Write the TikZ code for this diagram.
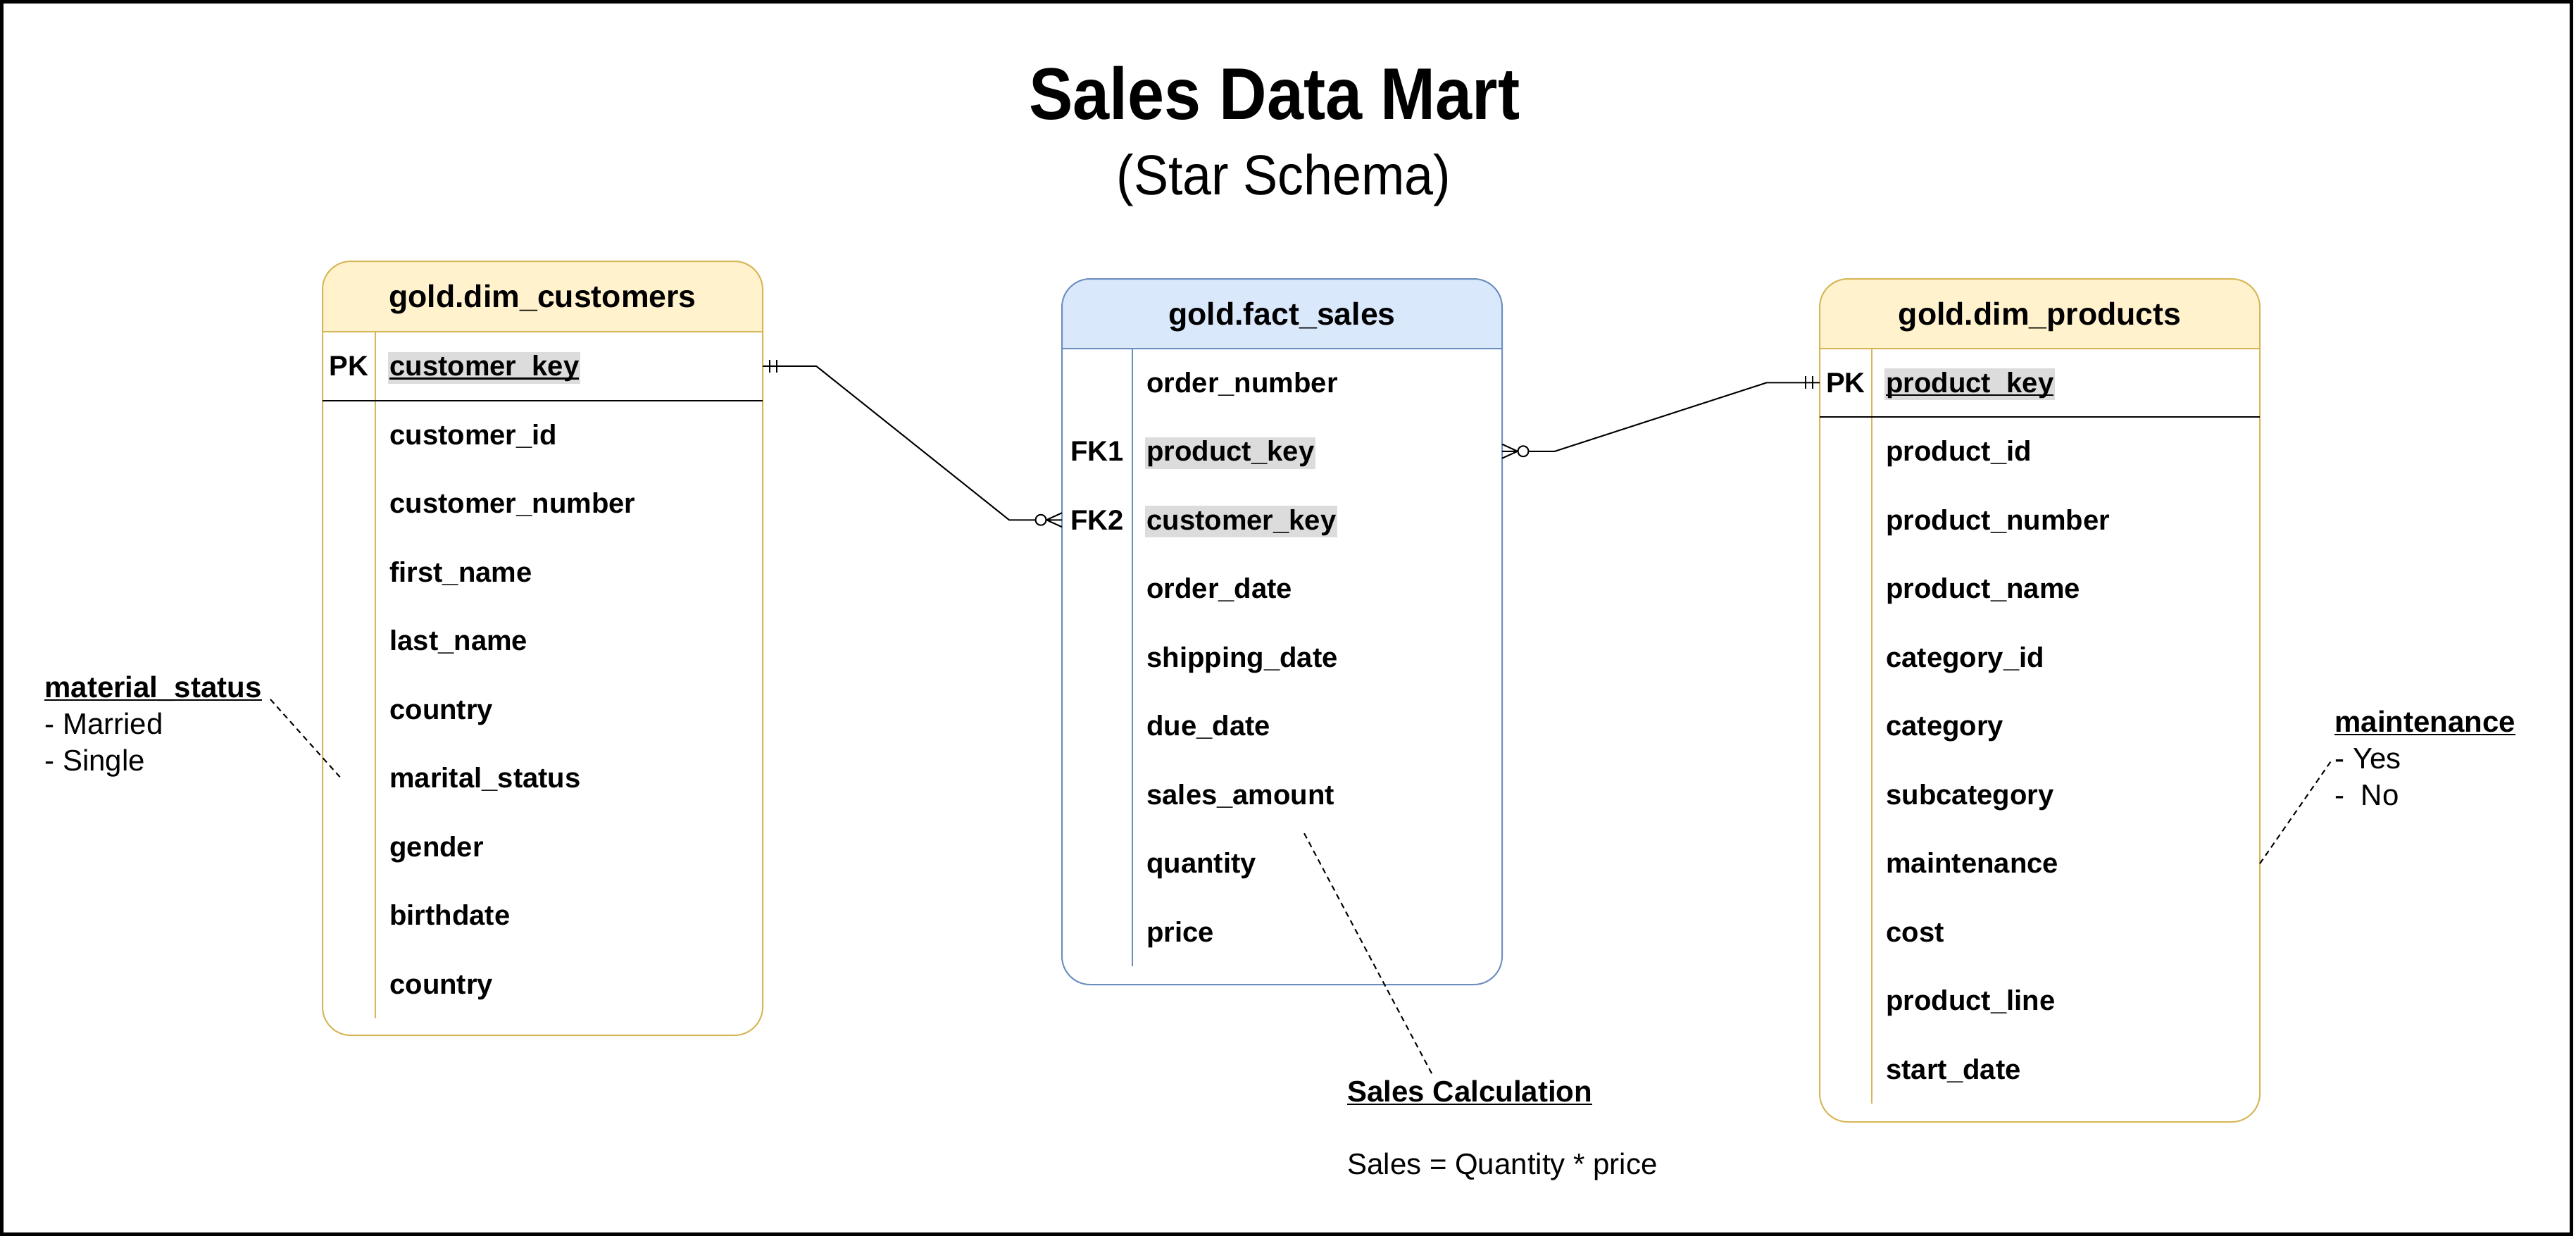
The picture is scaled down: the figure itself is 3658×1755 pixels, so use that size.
\documentclass[tikz,border=0pt]{standalone}
\usepackage{fontspec}
\setmainfont{Liberation Sans}
\usetikzlibrary{calc}
\definecolor{yfill}{HTML}{FFF2CC}
\definecolor{ystroke}{HTML}{D6B656}
\definecolor{bfill}{HTML}{DAE8FC}
\definecolor{bstroke}{HTML}{6C8EBF}
\definecolor{hlgray}{HTML}{DCDCDC}
\newcommand\myul[1]{\setbox0\hbox{#1}\rlap{\rule[-0.13em]{\wd0}{0.065em}}\box0}
\begin{document}
\begin{tikzpicture}[x=0.5pt,y=-0.5pt,
  tbox/.style={rounded corners=20pt, minimum width=312.5pt, inner sep=0pt, outer sep=0pt, line width=1pt},
  keycell/.style={minimum width=312.5pt, minimum height=48.75pt, inner sep=0pt, outer sep=0pt},
  hdrtxt/.style={anchor=base, inner sep=0pt, font=\fontsize{22.3pt}{26pt}\selectfont\bfseries},
  rowtxt/.style={anchor=base west, inner sep=0pt, font=\fontsize{20pt}{24pt}\selectfont\bfseries},
  keytxt/.style={anchor=base, inner sep=0pt, font=\fontsize{20pt}{24pt}\selectfont\bfseries},
  hltxt/.style={rowtxt, fill=hlgray, inner xsep=1pt, inner ysep=0pt, text height=17pt, text depth=5.5pt},
  notetitle/.style={anchor=base west, inner sep=0pt, font=\fontsize{21pt}{25pt}\selectfont\bfseries},
  notetext/.style={anchor=base west, inner sep=0pt, font=\fontsize{21pt}{25pt}\selectfont},
  conn/.style={line width=1pt, black},
  dashline/.style={line width=1pt, dash pattern=on 4pt off 3pt, black}
]
\useasboundingbox (0,0) rectangle (3658,1755);
\fill[white] (0,0) rectangle (3658,1755);
\draw[line width=2.5pt] (2.5,2.5) rectangle (3651.5,1752.5);

% title
\node[anchor=base, inner sep=0pt, xscale=0.9, font=\fontsize{52pt}{60pt}\selectfont\bfseries] (title) at (1810,170) {Sales Data Mart};
\node[anchor=base, inner sep=0pt, xscale=0.92, font=\fontsize{40pt}{48pt}\selectfont] (subtitle) at (1823,277) {(Star Schema)};

% ---------- customers ----------
\begin{scope}
\clip[rounded corners=20pt] (458,371) rectangle (1083,1470);
\fill[yfill] (458,371) rectangle (1083,471);
\end{scope}
\node[tbox, draw=ystroke, minimum height=549.5pt] (cust) at (770.5,920.5) {};
\draw[ystroke, line width=1pt] (458,471) -- (1083,471);
\draw[ystroke, line width=1pt] (533,471) -- (533,1446);
\draw[black, line width=1pt] (458,568.5) -- (1083,568.5);
\node[hdrtxt] (c-h) at (770.5,436.6) {gold.dim\_customers};
\node[keycell] (c-pk) at (770.5,519.75) {};
\node[keycell] (c-ms) at (770.5,1104.75) {};
\node[keytxt] (c-pkl) at (495.5,533.75) {PK};
\node[hltxt] (c-pkt) at (551,533.75) {\myul{customer\_key}};
\foreach \t [count=\i from 0] in {customer\_id,customer\_number,first\_name,last\_name,country,marital\_status,gender,birthdate,country}
  \node[rowtxt] (c-r\i) at (553,{631.25+97.5*\i}) {\t};

% ---------- fact ----------
\begin{scope}
\clip[rounded corners=20pt] (1508,396) rectangle (2133,1398);
\fill[bfill] (1508,396) rectangle (2133,494.5);
\end{scope}
\node[tbox, draw=bstroke, minimum height=501pt] (fact) at (1820.5,897) {};
\draw[bstroke, line width=1pt] (1508,494.5) -- (2133,494.5);
\draw[bstroke, line width=1pt] (1608,494.5) -- (1608,1372);
\node[hdrtxt] (f-h) at (1820.5,461) {gold.fact\_sales};
\node[keycell] (f-pk) at (1820.5,640.75) {};
\node[keycell] (f-ck) at (1820.5,738.25) {};
\node[rowtxt] (f-r0) at (1628,557.25) {order\_number};
\node[keytxt] (f-fk1) at (1558,654.75) {FK1};
\node[hltxt] (f-r1) at (1626,654.75) {product\_key};
\node[keytxt] (f-fk2) at (1558,752.25) {FK2};
\node[hltxt] (f-r2) at (1626,752.25) {customer\_key};
\foreach \t [count=\i from 3] in {order\_date,shipping\_date,due\_date,sales\_amount,quantity,price}
  \node[rowtxt] (f-r\i) at (1628,{557.25+97.5*\i}) {\t};

% ---------- products ----------
\begin{scope}
\clip[rounded corners=20pt] (2584,396) rectangle (3209,1593);
\fill[yfill] (2584,396) rectangle (3209,494.5);
\end{scope}
\node[tbox, draw=ystroke, minimum height=598.5pt] (prod) at (2896.5,994.5) {};
\draw[ystroke, line width=1pt] (2584,494.5) -- (3209,494.5);
\draw[ystroke, line width=1pt] (2658,494.5) -- (2658,1567);
\draw[black, line width=1pt] (2584,592) -- (3209,592);
\node[hdrtxt] (p-h) at (2896.5,461) {gold.dim\_products};
\node[keycell] (p-pk) at (2896.5,543.25) {};
\node[keycell] (p-mt) at (2896.5,1226.25) {};
\node[keytxt] (p-pkl) at (2621,557.25) {PK};
\node[hltxt] (p-pkt) at (2676,557.25) {\myul{product\_key}};
\foreach \t [count=\i from 0] in {product\_id,product\_number,product\_name,category\_id,category,subcategory,maintenance,cost,product\_line,start\_date}
  \node[rowtxt] (p-r\i) at (2678,{654.75+97.5*\i}) {\t};

% ---------- connector customers -> fact ----------
\draw[conn] (c-pk.east) -- ++(76,0) -- ($(f-ck.west)+(-75,0)$) -- ($(f-ck.west)+(-37.5,0)$);
\draw[conn] ($(c-pk.east)+(10,-9)$) -- ++(0,18) ($(c-pk.east)+(20,-9)$) -- ++(0,18);
\draw[conn] ($(f-ck.west)+(-30,0)$) circle (3.75pt);
\draw[conn] ($(f-ck.west)+(-22,0)$) -- ($(f-ck.west)+(0,-10)$)
            ($(f-ck.west)+(-22,0)$) -- ($(f-ck.west)+(0,10)$)
            ($(f-ck.west)+(-22.5,0)$) -- (f-ck.west);

% ---------- connector fact -> products ----------
\draw[conn] ($(f-pk.east)+(37.5,0)$) -- ($(f-pk.east)+(75,0)$) -- ($(p-pk.west)+(-75,0)$) -- (p-pk.west);
\draw[conn] ($(p-pk.west)+(-10,-9)$) -- ++(0,18) ($(p-pk.west)+(-20,-9)$) -- ++(0,18);
\draw[conn] ($(f-pk.east)+(30,0)$) circle (3.75pt);
\draw[conn] ($(f-pk.east)+(22,0)$) -- ($(f-pk.east)+(0,-10)$)
            ($(f-pk.east)+(22,0)$) -- ($(f-pk.east)+(0,10)$)
            ($(f-pk.east)+(22.5,0)$) -- (f-pk.east);

% ---------- annotations ----------
\node[notetitle] (ms-t) at (63,990) {\myul{material\_status}};
\node[notetext] (ms-1) at (63,1042) {- Married};
\node[notetext] (ms-2) at (63,1094) {- Single};
\draw[dashline] ($(ms-t.base east)+(12,3)$) -- ($(c-ms.west)+(26,0)$);

\node[notetitle] (mt-t) at (3315,1039) {\myul{maintenance}};
\node[notetext] (mt-1) at (3315,1091) {- Yes};
\node[notetext] (mt-2) at (3315,1143) {-\ \ No};
\draw[dashline] (p-mt.east) -- ($(mt-1.base west)+(-3,-13)$);

\node[notetitle] (sc-t) at (1913,1564) {\myul{Sales Calculation}};
\node[notetext] (sc-1) at (1913,1667) {Sales = Quantity * price};
\draw[dashline] ($(f-r6.base west)+(224,41)$) -- ($(sc-t.base west)+(121,-38)$);
\end{tikzpicture}
\end{document}
